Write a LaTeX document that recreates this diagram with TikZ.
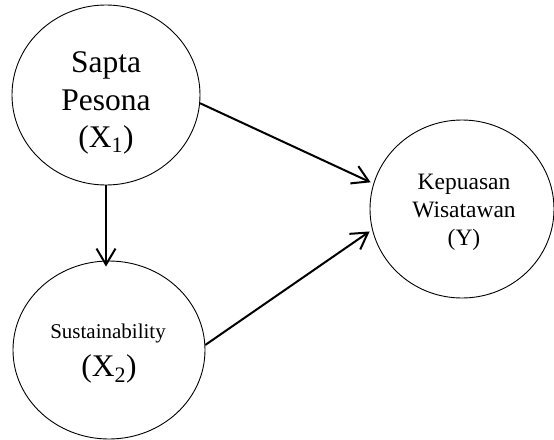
\documentclass[tikz,border=0pt]{standalone}
\usepackage{fontspec}
\setmainfont{Liberation Serif}
\usetikzlibrary{shapes.geometric,arrows.meta}
\begin{document}
\begin{tikzpicture}[x=1pt,y=-1pt,
  construct/.style={draw,ellipse,line width=0.9pt,inner sep=0pt},
  path arrow/.style={line width=2pt,-{Straight Barb[length=16pt,width=19pt]}},
  bigtxt/.style={anchor=base,inner sep=0pt,font=\fontsize{31.5}{37}\selectfont},
  midtxt/.style={anchor=base,inner sep=0pt,font=\fontsize{23.5}{28}\selectfont},
  smalltxt/.style={anchor=base,inner sep=0pt,font=\fontsize{21}{25}\selectfont}]
\useasboundingbox (0,0) rectangle (554,439);

% latent constructs
\node[construct,minimum width=188pt,minimum height=180pt] (x1) at (106,95) {};
\node[construct,minimum width=192pt,minimum height=178pt] (x2) at (109,350) {};
\node[construct,minimum width=184pt,minimum height=178pt] (y) at (462,209) {};

% labels
\node[bigtxt] (x1a) at (106,72) {Sapta};
\node[bigtxt] (x1b) at (106,110) {Pesona};
\node[bigtxt] (x1c) at (106,147) {(X\textsubscript{1})};

\node[smalltxt] (x2a) at (108,338) {Sustainability};
\node[bigtxt] (x2b) at (109,376) {(X\textsubscript{2})};

\node[midtxt] (ya) at (464,189) {Kepuasan};
\node[midtxt] (yb) at (464,217) {Wisatawan};
\node[midtxt] (yc) at (464,245) {(Y)};

% paths
\draw[path arrow] (x1.south) -- ([yshift=-6pt]x1.south |- x2.north);
\draw[path arrow,shorten >=3pt] (x1.-5) -- (y.164.7);
\draw[path arrow,shorten >=3pt] (x2.3) -- (y.193.5);
\end{tikzpicture}
\end{document}
